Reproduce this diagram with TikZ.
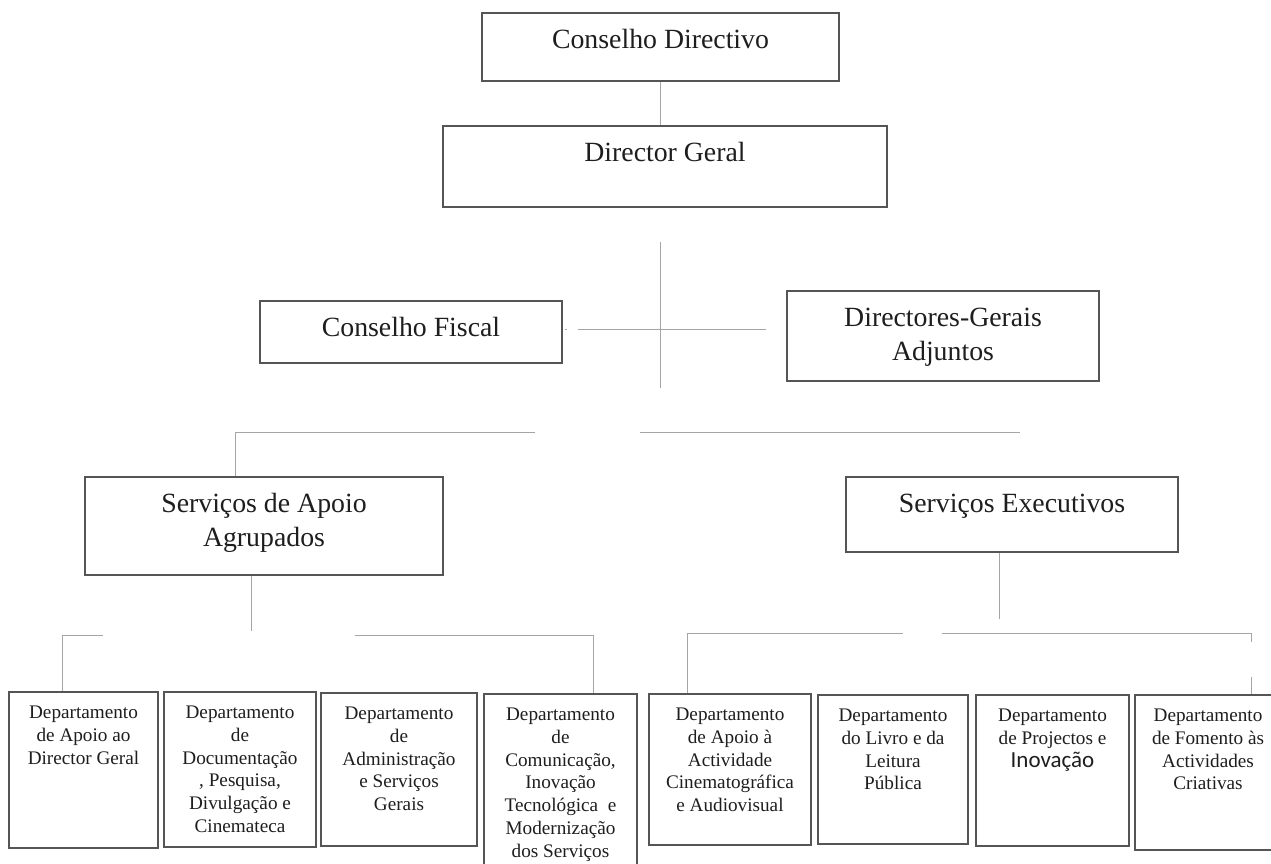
\documentclass[tikz,border=0pt]{standalone}
\usepackage{fontspec}
\setmainfont{Liberation Serif}
\newfontfamily\inofont{Carlito}
\definecolor{boxline}{RGB}{85,85,85}
\definecolor{connline}{RGB}{165,165,165}
\definecolor{txt}{RGB}{30,30,30}
\newcommand{\obx}[4]{\parbox[c][#2][t]{#1}{\centering\rule{0pt}{#3}#4\par}}
\tikzset{
  orgbox/.style={draw=boxline, line width=1.2pt, inner sep=0pt, text=txt},
  bigtext/.style={font=\fontsize{27.8}{34}\selectfont},
  smalltext/.style={font=\fontsize{19.2}{22.8}\selectfont},
  conn/.style={draw=connline, line width=0.9pt},
}
\begin{document}
\begin{tikzpicture}[x=1pt,y=-1pt]
\fill[white] (0,0) rectangle (1271,864);
\useasboundingbox (0,0) rectangle (1271,864);
\clip (0,0) rectangle (1271,864);

% top level
\node[orgbox,bigtext] (cd)  at (660.5,47)  {\obx{357pt}{68pt}{35.5pt}{Conselho Directivo}};
\node[orgbox,bigtext] (dg)  at (665,166.5) {\obx{444pt}{81pt}{35.5pt}{Director Geral}};
\node[orgbox,bigtext] (cf)  at (411,332)   {\obx{302pt}{62pt}{35pt}{Conselho Fiscal}};
\node[orgbox,bigtext] (dga) at (943,336)   {\obx{312pt}{90pt}{35.5pt}{Directores-Gerais\\Adjuntos}};
\node[orgbox,bigtext] (saa) at (264,526)   {\obx{358pt}{98pt}{35pt}{Serviços de Apoio\\Agrupados}};
\node[orgbox,bigtext] (se)  at (1012,514.5){\obx{332pt}{75pt}{35pt}{Serviços Executivos}};

% departments
\node[orgbox,smalltext] (d1) at (83.5,770)  {\obx{149pt}{156pt}{26.5pt}{Departamento\\de Apoio ao\\Director Geral}};
\node[orgbox,smalltext] (d2) at (240,769.5) {\obx{152pt}{155pt}{26.5pt}{Departamento\\de\\Documentação\\, Pesquisa,\\Divulgação e\\Cinemateca}};
\node[orgbox,smalltext] (d3) at (399,769.5) {\obx{156pt}{153pt}{26.5pt}{Departamento\\de\\Administração\\e Serviços\\Gerais}};
\node[orgbox,smalltext] (d4) at (560.5,787) {\obx{153pt}{186pt}{26.5pt}{Departamento\\de\\Comunicação,\\Inovação\\Tecnológica~~e\\Modernização\\dos Serviços}};
\node[orgbox,smalltext] (d5) at (730,769.5) {\obx{162pt}{151pt}{26.5pt}{Departamento\\de Apoio à\\Actividade\\Cinematográfica\\e Audiovisual}};
\node[orgbox,smalltext] (d6) at (893,769.5) {\obx{150pt}{149pt}{26.5pt}{Departamento\\do Livro e da\\Leitura\\Pública}};
\node[orgbox,smalltext] (d7) at (1052.5,770.5) {\obx{153pt}{151pt}{26.5pt}{Departamento\\de Projectos e\\{\inofont\fontsize{23}{25}\selectfont Inovação}}};
\node[orgbox,smalltext] (d8) at (1208,772.5) {\obx{146pt}{155pt}{26.5pt}{Departamento\\de Fomento às\\Actividades\\Criativas}};

% connectors
\draw[conn] (cd.south) -- (cd.south |- dg.north);
\coordinate (t1) at (660,242);
\coordinate (t2) at (660,388);
\draw[conn] (t1) -- (t2);
\coordinate (cfr) at (565,329);
\coordinate (dgal) at (766,329);
\draw[conn, dash pattern=on 2pt off 11pt on 400pt] (cfr) -- (dgal);

\coordinate (b1) at (235,432);
\coordinate (b2) at (535,432);
\coordinate (b3) at (640,432);
\coordinate (b4) at (1020,432);
\draw[conn] (b1 |- saa.north) -- (b1) -- (b2);
\draw[conn] (b3) -- (b4);

\coordinate (s1) at (251,631);
\draw[conn] (s1 |- saa.south) -- (s1);
\coordinate (l1) at (62,635);
\coordinate (l2) at (103,635);
\coordinate (l3) at (355,635);
\coordinate (l4) at (593,635);
\draw[conn] (l1 |- d1.north) -- (l1) -- (l2);
\draw[conn] (l3) -- (l4) -- (l4 |- d4.north);

\coordinate (s2) at (999,619);
\draw[conn] (s2 |- se.south) -- (s2);
\coordinate (r1) at (687,633);
\coordinate (r2) at (903,633);
\coordinate (r3) at (942,633);
\coordinate (r4) at (1251,633);
\draw[conn] (r1 |- d5.north) -- (r1) -- (r2);
\draw[conn] (r3) -- (r4);
\draw[conn, dash pattern=on 9pt off 35pt on 40pt] (r4) -- (r4 |- d8.north);
\end{tikzpicture}
\end{document}
